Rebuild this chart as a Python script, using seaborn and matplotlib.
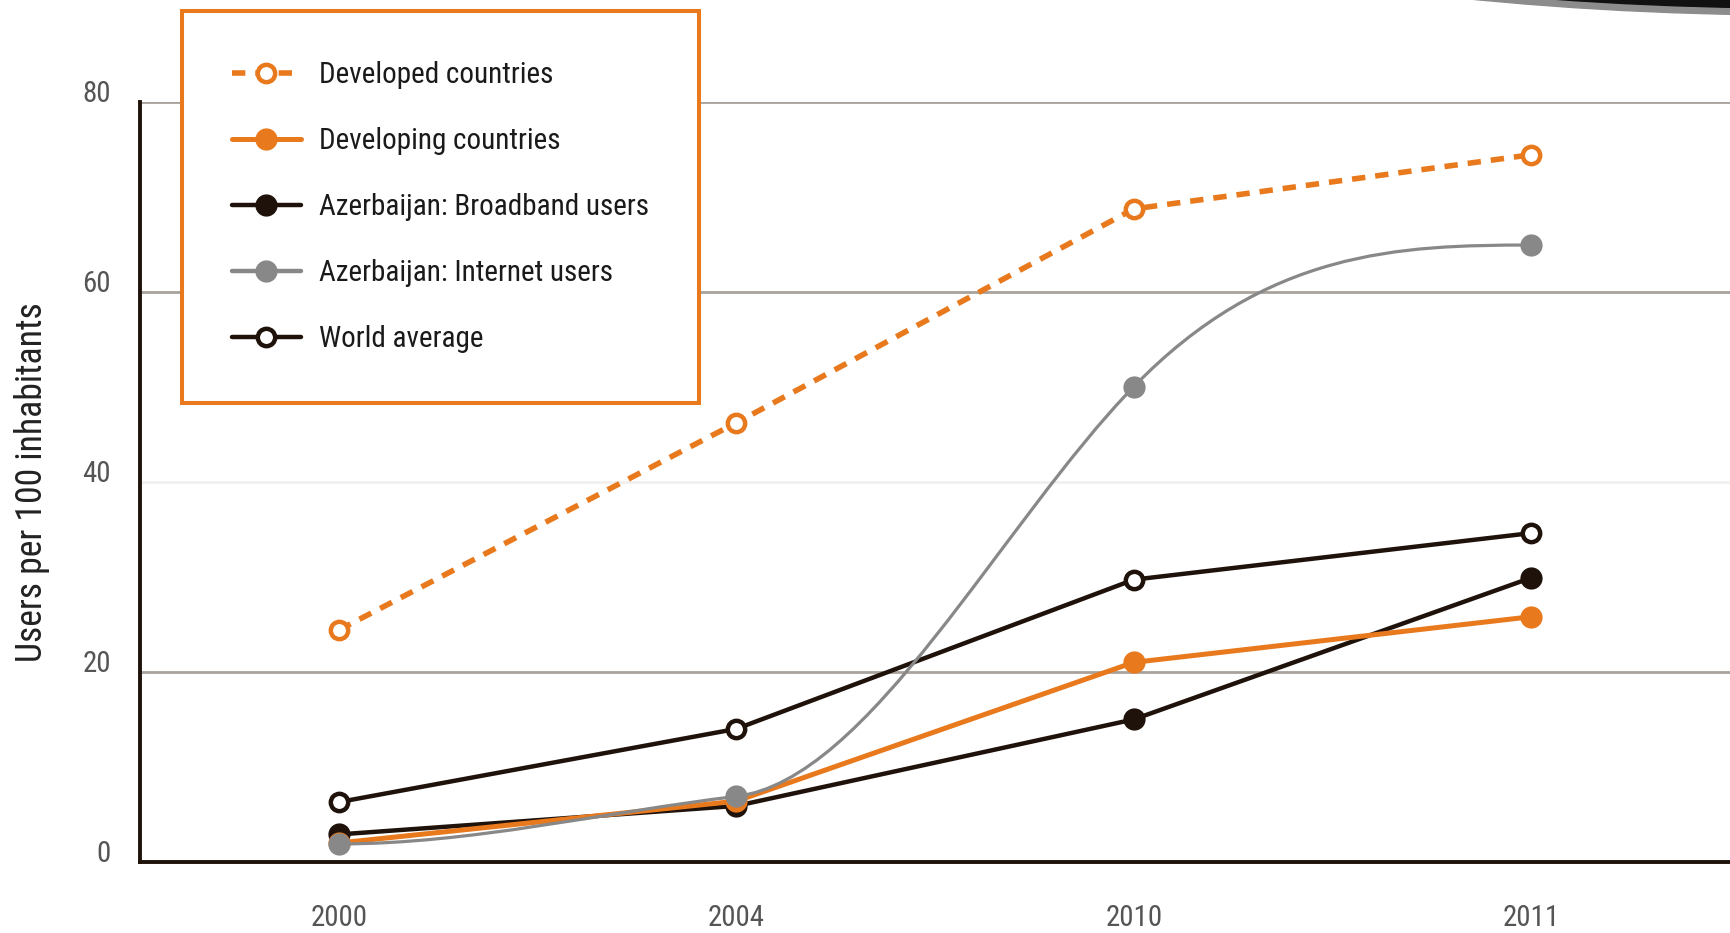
import os
import matplotlib
matplotlib.use('Agg')
import matplotlib.pyplot as plt
from matplotlib import font_manager as fm
from matplotlib.lines import Line2D
from matplotlib.path import Path
from matplotlib.patches import PathPatch, Ellipse
import numpy as np
import seaborn as sns

# values (users per 100 inhabitants)
years = ['2000', '2004', '2010', '2011']
developed = [24.4, 46.2, 68.7, 74.4]
developing = [2.0, 6.4, 21.0, 25.8]
broadband = [2.9, 5.9, 15.0, 29.9]
internet = [1.9, 6.9, 50.0, 64.9]
world = [6.3, 14.0, 29.7, 34.6]
labels = ['Developed countries', 'Developing countries', 'Azerbaijan: Broadband users',
          'Azerbaijan: Internet users', 'World average']
yticks = [0, 20, 40, 60, 80]

ORANGE = '#e8791d'
DARK = '#1e120b'
GREY = '#888888'


def pick_condensed():
    files = [f.fname for f in fm.fontManager.ttflist]
    wanted = ['RobotoCondensed-Regular', 'LiberationSansNarrow-Regular', 'NotoSans-Condensed.',
              'NotoSans-CondensedRegular', 'OpenSans-CondensedRegular', 'OpenSans_Condensed-Regular',
              'DejaVuSansCondensed.']
    for w in wanted:
        for f in files:
            if w in os.path.basename(f):
                return fm.FontProperties(fname=f)
    return fm.FontProperties(family='Liberation Sans')


def fit(fp, text, target_px, fig):
    # font size that makes `text` about target_px wide
    p = fp.copy()
    p.set_size(20)
    t = fig.text(0, 0, text, fontproperties=p)
    w = t.get_window_extent(fig.canvas.get_renderer()).width
    t.remove()
    p.set_size(20 * target_px / w)
    return p


def smooth_path(xs, ys):
    # monotone cubic through the points, flat at both ends
    xs = np.asarray(xs, float)
    ys = np.asarray(ys, float)
    s = np.diff(ys) / np.diff(xs)
    m = np.zeros_like(ys)
    for i in range(1, len(ys) - 1):
        if s[i - 1] * s[i] > 0:
            a, b = abs(s[i - 1]), abs(s[i])
            m[i] = np.sign(s[i]) * min(a, 3 * min(a, b))
    verts = [(xs[0], ys[0])]
    codes = [Path.MOVETO]
    for i in range(len(xs) - 1):
        h = (xs[i + 1] - xs[i]) / 3
        verts += [(xs[i] + h, ys[i] + h * m[i]),
                  (xs[i + 1] - h, ys[i + 1] - h * m[i + 1]),
                  (xs[i + 1], ys[i + 1])]
        codes += [Path.CURVE4] * 3
    return Path(verts, codes)


sns.set_style('white')
plt.rcParams['font.family'] = ['Liberation Sans', 'DejaVu Sans']

fig = plt.figure(figsize=(17.3, 9.33), dpi=100)
ax = fig.add_axes([140 / 1730, 71 / 933, 1 - 140 / 1730, 760.5 / 933])

cond = pick_condensed()
fp_leg = fit(cond, 'Developed countries', 234, fig)
fp_ylab = fit(cond, 'Users per 100 inhabitants', 359, fig)
fp_tick = fit(cond, '2010', 57, fig)

sns.lineplot(x=years, y=broadband, ax=ax, color=DARK, lw=3.2, marker='o', markersize=16,
             markeredgewidth=0, zorder=3)
sns.lineplot(x=years, y=world, ax=ax, color=DARK, lw=3.2, marker='o', markersize=12.5,
             markerfacecolor='white', markeredgecolor=DARK, markeredgewidth=3.2, zorder=4)
sns.lineplot(x=years, y=developing, ax=ax, color=ORANGE, lw=3.6, marker='o', markersize=16,
             markeredgewidth=0, zorder=5)

# Internet users: smoothed curve plus markers
xpos = ax.xaxis.convert_units(years)
ax.add_patch(PathPatch(smooth_path(xpos, internet), facecolor='none', edgecolor=GREY,
                       lw=2.3, zorder=6))
sns.lineplot(x=years, y=internet, ax=ax, color=GREY, lw=0, marker='o', markersize=16,
             markeredgewidth=0, zorder=7)

sns.lineplot(x=years, y=developed, ax=ax, color=ORANGE, lw=4, linestyle='--', marker='o',
             markersize=12.5, markerfacecolor='white', markeredgecolor=ORANGE,
             markeredgewidth=3.2, zorder=8)
ax.lines[-1].set_dashes([2.4, 1.8])

ax.set_xlim(-0.5, 3.5)
ax.set_ylim(0, 80)
ax.set_xticks(xpos, labels=years, fontproperties=fp_tick)
ax.set_yticks(yticks, labels=[str(v) for v in yticks], fontproperties=fp_tick)
ax.set_xlabel('')

# grid lines (40 is almost invisible in the reference)
for v in yticks[1:]:
    ax.axhline(v, color='#f2f0ee' if v == 40 else '#a8a29b', lw=2, zorder=1)

for side in ['top', 'right']:
    ax.spines[side].set_visible(False)
for side in ['left', 'bottom']:
    ax.spines[side].set_color(DARK)
    ax.spines[side].set_linewidth(2.8)
    ax.spines[side].set_zorder(9)

ax.tick_params(axis='y', length=0, pad=21, labelcolor='#555555')
ax.tick_params(axis='x', direction='in', length=13, width=1.6, color=DARK, pad=30,
               labelcolor='#555555')
for t in ax.get_yticklabels():
    t.set_verticalalignment('baseline')

ax.set_ylabel('Users per 100 inhabitants', fontproperties=fp_ylab, color='#222222', va='center')
ax.yaxis.set_label_coords(-0.068, 0.5)

handles = [
    Line2D([], [], color=ORANGE, lw=4, ls=(0, (2.4, 1.8)), marker='o', markersize=12.5,
           markerfacecolor='white', markeredgecolor=ORANGE, markeredgewidth=3.2),
    Line2D([], [], color=ORANGE, lw=3.6, marker='o', markersize=16, markeredgewidth=0),
    Line2D([], [], color=DARK, lw=3.2, marker='o', markersize=16, markeredgewidth=0),
    Line2D([], [], color=GREY, lw=3.2, marker='o', markersize=16, markeredgewidth=0),
    Line2D([], [], color=DARK, lw=3.2, marker='o', markersize=12.5, markerfacecolor='white',
           markeredgecolor=DARK, markeredgewidth=3.2),
]
leg = ax.legend(handles=handles, labels=labels, loc='upper left',
                bbox_to_anchor=(182 / 1730, 1 - 11 / 933), bbox_transform=fig.transFigure,
                borderaxespad=0, prop=fp_leg, frameon=True, fancybox=False,
                borderpad=1.72, labelspacing=1.3, handlelength=2.35, handletextpad=0.62)
leg.get_frame().set_edgecolor(ORANGE)
leg.get_frame().set_linewidth(2.9)
leg.get_frame().set_facecolor('white')
leg.get_frame().set_alpha(1)
leg.set_zorder(10)
for t in leg.get_texts():
    t.set_color('#1a1a1a')

# decorative arc in the top right corner
fig.add_artist(Ellipse((1800, 933 + 285), 2050, 600, transform=None, color='#8c8c8c', zorder=0))
fig.add_artist(Ellipse((1800, 933 + 292), 2050, 600, transform=None, color='#111111', zorder=0))

fig.savefig('out.png', dpi=100)
